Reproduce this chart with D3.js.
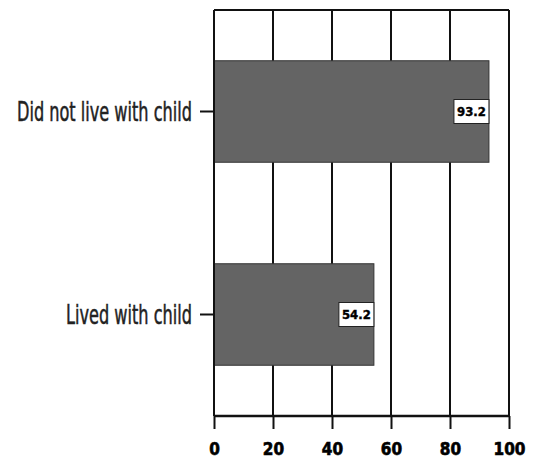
<!DOCTYPE html>
<html>
<head>
<meta charset="utf-8">
<script src="https://cdn.jsdelivr.net/npm/d3@7"></script>
<style>
html,body{margin:0;padding:0;background:#fff;}
svg{display:block;}
</style>
</head>
<body>
<svg id="chart" width="534" height="459"></svg>
<script>
const categories = ["Did not live with child", "Lived with child"];
const values = [93.2, 54.2];
const tickValues = [0, 20, 40, 60, 80, 100];

const svg = d3.select("#chart");
const pLeft = 214, pRight = 509, pTop = 10, pBottom = 416;

const x = d3.scaleLinear().domain([0, 100]).range([pLeft, pRight]);
const y = d3.scaleBand().domain(categories).range([pTop, pBottom])
  .paddingInner(0.5).paddingOuter(0.25);

// grid lines
svg.append("g").selectAll("line").data(tickValues).join("line")
  .attr("x1", d => x(d)).attr("x2", d => x(d))
  .attr("y1", pTop).attr("y2", pBottom)
  .attr("stroke", "#111").attr("stroke-width", 2);

// top border
svg.append("line").attr("x1", pLeft).attr("x2", pRight).attr("y1", pTop).attr("y2", pTop)
  .attr("stroke", "#111").attr("stroke-width", 2);

// bars
svg.append("g").selectAll("rect").data(values).join("rect")
  .attr("x", x(0))
  .attr("y", (d, i) => y(categories[i]))
  .attr("width", d => x(d) - x(0))
  .attr("height", y.bandwidth())
  .attr("fill", "#646464")
  .attr("stroke", "#333").attr("stroke-width", 1);

// value labels
const lab = svg.append("g").selectAll("g").data(values).join("g");
const boxW = 35, boxH = 24;
lab.append("rect")
  .attr("x", d => x(d) - boxW)
  .attr("y", (d, i) => y(categories[i]) + y.bandwidth() / 2 - boxH / 2)
  .attr("width", boxW).attr("height", boxH)
  .attr("fill", "#fff").attr("stroke", "#222").attr("stroke-width", 1);
lab.append("text")
  .attr("x", d => x(d) - boxW / 2)
  .attr("y", (d, i) => y(categories[i]) + y.bandwidth() / 2)
  .attr("dy", "0.36em")
  .attr("text-anchor", "middle")
  .attr("font-family", "DejaVu Sans Condensed, DejaVu Sans")
  .attr("font-weight", "bold")
  .attr("font-size", 13)
  .attr("stroke", "#000").attr("stroke-width", 0.4)
  .attr("fill", "#000")
  .text(d => d.toFixed(1));

// x axis
const xAxis = d3.axisBottom(x).tickValues(tickValues).tickSize(13).tickPadding(14).tickFormat(d3.format("d"));
const gx = svg.append("g").attr("transform", `translate(0,${pBottom})`).call(xAxis);
gx.select(".domain").attr("stroke", "#111").attr("stroke-width", 2.5)
  .attr("d", `M${pLeft},0H${pRight}`);
gx.selectAll(".tick line").attr("stroke", "#111").attr("stroke-width", 2);
gx.selectAll(".tick text")
  .attr("font-family", "DejaVu Sans Condensed, DejaVu Sans")
  .attr("font-weight", "bold")
  .attr("font-size", 17)
  .attr("stroke", "#000").attr("stroke-width", 0.6)
  .attr("fill", "#000");

// y axis
const yAxis = d3.axisLeft(y).tickSize(14).tickPadding(8);
const gy = svg.append("g").attr("transform", `translate(${pLeft},0)`).call(yAxis);
gy.select(".domain").attr("stroke", "#111").attr("stroke-width", 2)
  .attr("d", `M0,${pTop}V${pBottom}`);
gy.selectAll(".tick line").attr("stroke", "#111").attr("stroke-width", 2);
const yt = gy.selectAll(".tick text")
  .attr("font-family", "DejaVu Sans Condensed, DejaVu Sans")
  .attr("font-size", 26)
  .attr("dy", "0.35em")
  .attr("stroke", "#222").attr("stroke-width", 0.5)
  .attr("fill", "#222");
// condense labels horizontally to mimic narrow typeface
const targetWidth = 175;
const w0 = yt.nodes()[0].getComputedTextLength();
const k = targetWidth / w0;
yt.each(function() {
  const w = this.getComputedTextLength();
  d3.select(this).attr("textLength", w * k).attr("lengthAdjust", "spacingAndGlyphs");
});
</script>
</body>
</html>
